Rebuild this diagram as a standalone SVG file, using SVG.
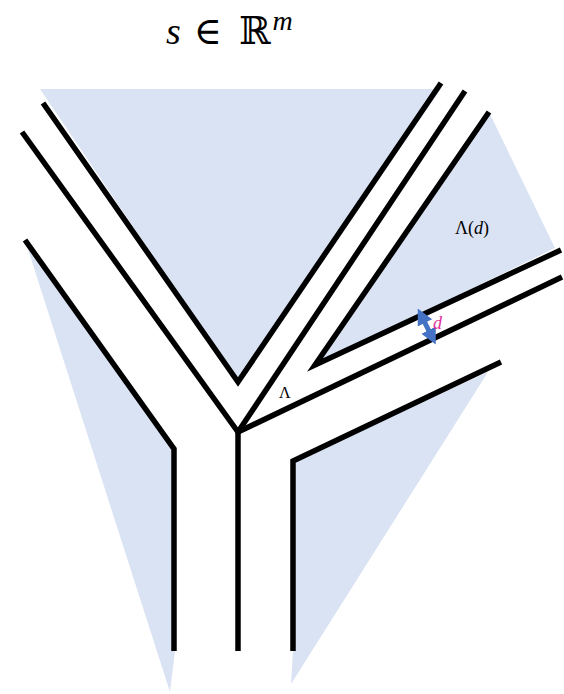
<svg xmlns="http://www.w3.org/2000/svg" width="564" height="694" viewBox="0 0 564 694">
<style>
.shade{fill:#DAE3F3;stroke:none}
.wall{fill:none;stroke:#000;stroke-width:5.5;stroke-linejoin:miter;stroke-linecap:butt}
.math{font-family:"Liberation Serif","DejaVu Serif",serif;fill:#000}
</style>
<defs>
<marker id="ah" viewBox="0 0 10 10" refX="2" refY="5" markerWidth="3.2" markerHeight="3.6" orient="auto-start-reverse" markerUnits="strokeWidth">
<path d="M0,0 L10,5 L0,10 Z" fill="#4472C4"/>
</marker>
</defs>
<rect width="564" height="694" fill="#fff"/>
<g id="shading">
<polygon class="shade" points="40,89 441,89 238,382"/>
<polygon class="shade" points="489,112 555,248 315,365"/>
<polygon class="shade" points="25,240 175,450 175,651 170,692"/>
<polygon class="shade" points="293,461 488,372 291,684 293,651"/>
</g>
<g id="connectors">
<polyline class="wall" points="43,103 238,382 441,83"/>
<polyline class="wall" points="22,132 238,432 465,91"/>
<polyline class="wall" points="238,432 562,277"/>
<polyline class="wall" points="238,430 238,651"/>
<polyline class="wall" points="489,112 315,365 561,250"/>
<polyline class="wall" points="25,240 174,449 174,651"/>
<polyline class="wall" points="293,651 293,461 501,362"/>
<line x1="423.5" y1="320" x2="430" y2="333" stroke="#4472C4" stroke-width="5" marker-start="url(#ah)" marker-end="url(#ah)"/>
</g>
<g id="title">
<text class="math" x="166" y="44" font-size="38"><tspan font-style="italic">s</tspan><tspan dx="13">∈</tspan><tspan dx="17">ℝ</tspan><tspan font-style="italic" font-size="28" dy="-14" dx="2">m</tspan></text>
</g>
<g id="labels">
<text class="math" x="279" y="398" font-size="16">Λ</text>
<text class="math" x="455" y="234" font-size="18">Λ(<tspan font-style="italic">d</tspan>)</text>
<text class="math" x="433" y="329" font-size="18" font-style="italic" style="fill:#E0309E">d</text>
</g>
</svg>
